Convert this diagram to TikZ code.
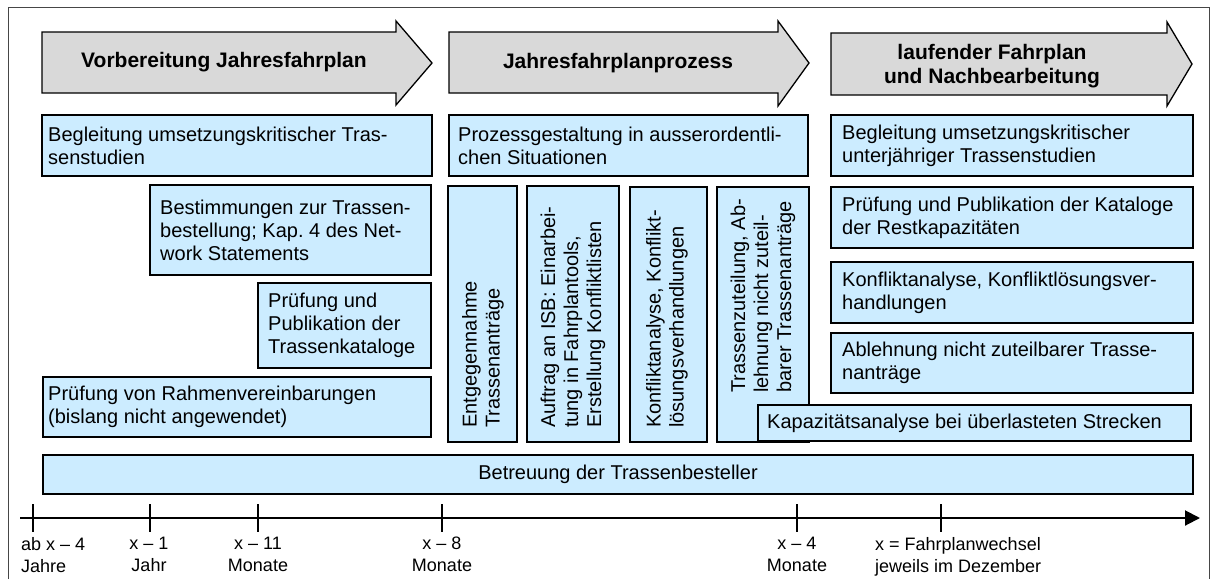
\documentclass[tikz,border=0pt]{standalone}
\usepackage{fontspec}
\setmainfont{Liberation Sans}
\usetikzlibrary{arrows.meta,shadows}
\definecolor{boxblue}{RGB}{204,236,255}
\definecolor{arrowgray}{RGB}{217,217,217}
\definecolor{framegray}{RGB}{70,70,70}
\newcommand\mkbox[5]{\node[box, minimum width={#4-#2}, minimum height={#5-#3}] (#1) at ({(#2+#4)/2},{(#3+#5)/2}) {};}
\begin{document}
\begin{tikzpicture}[x=1pt,y=-1pt,
  box/.style={draw=black, line width=1.3pt, fill=boxblue, inner sep=0pt, outer sep=0pt,
    drop shadow={shadow xshift=1.2pt, shadow yshift=-1.2pt, fill=gray!60, opacity=1}},
  txt/.style={align=left, inner sep=0pt, font=\fontsize{20}{23}\selectfont},
  vtxt/.style={txt, rotate=90, anchor=west},
  head/.style={align=center, inner sep=0pt, font=\fontsize{21}{24}\selectfont\bfseries},
  phase/.style={draw=black, line width=1.3pt, fill=arrowgray, line join=miter},
  axislbl/.style={align=center, inner sep=0pt, font=\fontsize{18}{22}\selectfont},
  axisline/.style={line width=2pt, -{Triangle[length=15pt,width=15pt]}},
  tick/.style={line width=1.8pt},
  frame/.style={draw=framegray, line width=1pt}]
\useasboundingbox (0,0) rectangle (1216,579);
\fill[white] (0,0) rectangle (1216,579);
\draw[frame] (8,579) -- (8,7) -- (1209,7) -- (1209,579);

% phase arrows
\draw[phase] (42,32) -- (396,32) -- (396,21) -- (432,63) -- (396,105) -- (396,93) -- (42,93) -- cycle;
\draw[phase] (449,32) -- (778,32) -- (778,21) -- (809,63) -- (778,106) -- (778,93) -- (449,93) -- cycle;
\draw[phase] (831,33) -- (1167,33) -- (1167,22) -- (1192,64) -- (1167,106) -- (1167,95) -- (831,95) -- cycle;
\node[head] (h1) at (224,62) {Vorbereitung Jahresfahrplan};
\node[head] (h2) at (618,63) {Jahresfahrplanprozess};
\node[head] (h3) at (992,66) {laufender Fahrplan\\und Nachbearbeitung};

% left column
\mkbox{b1}{42}{115}{432}{176}
\node[txt, anchor=west] (b1t) at ([xshift=6pt]b1.west) {Begleitung umsetzungskritischer Tras-\\senstudien};
\mkbox{b2}{150}{185}{431}{275}
\node[txt, anchor=west] (b2t) at ([xshift=10pt]b2.west) {Bestimmungen zur Trassen-\\bestellung; Kap.\ 4 des Net-\\work Statements};
\mkbox{b3}{258}{283}{431}{368}
\node[txt, anchor=west] (b3t) at ([xshift=10pt]b3.west) {Prüfung und\\Publikation der\\Trassenkataloge};
\mkbox{b4}{43}{377}{431}{437}
\node[txt, anchor=west] (b4t) at ([xshift=5pt]b4.west) {Prüfung von Rahmenvereinbarungen\\(bislang nicht angewendet)};

% middle column
\mkbox{m0}{449}{115}{808}{176}
\node[txt, anchor=west] (m0t) at ([xshift=9pt]m0.west) {Prozessgestaltung in ausserordentli-\\chen Situationen};
\mkbox{m1}{448}{186}{517}{442}
\node[vtxt] (m1t) at (483,428) {Entgegennahme\\Trassenanträge};
\mkbox{m2}{527}{186}{619}{442}
\node[vtxt] (m2t) at (573,428) {Auftrag an ISB: Einarbei-\\tung in Fahrplantools,\\Erstellung Konfliktlisten};
\mkbox{m3}{630}{187}{707}{442}
\node[vtxt] (m3t) at (667,428) {Konfliktanalyse, Konflikt-\\lösungsverhandlungen};
\mkbox{m4}{717}{187}{809}{442}
\node[vtxt] (m4t) at (763,393) {Trassenzuteilung, Ab-\\lehnung nicht zuteil-\\barer Trassenanträge};

% right column
\mkbox{r1}{831}{115}{1193}{176}
\node[txt, anchor=west] (r1t) at ([xshift=11pt]r1.west) {Begleitung umsetzungskritischer\\unterjähriger Trassenstudien};
\mkbox{r2}{831}{187}{1193}{248}
\node[txt, anchor=west] (r2t) at ([xshift=11pt]r2.west) {Prüfung und Publikation der Kataloge\\der Restkapazitäten};
\mkbox{r3}{831}{262}{1193}{323}
\node[txt, anchor=west] (r3t) at ([xshift=11pt]r3.west) {Konfliktanalyse, Konfliktlösungsver-\\handlungen};
\mkbox{r4}{831}{333}{1193}{393}
\node[txt, anchor=west] (r4t) at ([xshift=11pt]r4.west) {Ablehnung nicht zuteilbarer Trasse-\\nanträge};
\mkbox{r5}{758}{405}{1191}{441}
\node[txt, anchor=west] (r5t) at ([xshift=9pt]r5.west) {Kapazitätsanalyse bei überlasteten Strecken};

% bottom bar
\mkbox{bb}{43}{455}{1193}{494}
\node[txt] (bbt) at (618,474) {Betreuung der Trassenbesteller};

% time axis
\coordinate (axL) at (20,518);
\coordinate (axR) at (1200,518);
\draw[axisline] (axL) -- (axR);
\foreach \n/\x in {t1/33,t2/150,t3/258,t4/442,t5/797,t6/941}{
  \coordinate (\n) at (\x,518);
  \draw[tick] ([yshift=14pt]\n) -- ([yshift=-14pt]\n);
}
\node[axislbl, align=left, anchor=north west] (l1) at (21,537) {ab x – 4\\Jahre};
\node[axislbl, anchor=north] (l2) at (149,537) {x – 1\\Jahr};
\node[axislbl, anchor=north] (l3) at (258,537) {x – 11\\Monate};
\node[axislbl, anchor=north] (l4) at (442,537) {x – 8\\Monate};
\node[axislbl, anchor=north] (l5) at (797,537) {x – 4\\Monate};
\node[axislbl, align=left, anchor=north west] (l6) at (875,537) {x = Fahrplanwechsel\\jeweils im Dezember};
\end{tikzpicture}
\end{document}
